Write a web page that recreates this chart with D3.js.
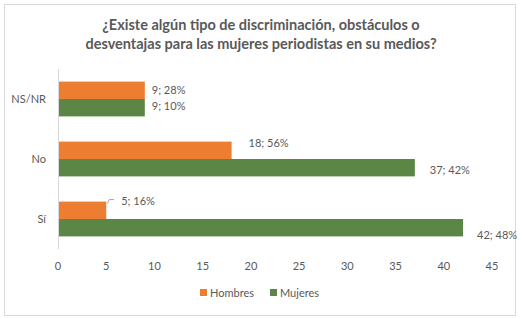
<!DOCTYPE html>
<html>
<head>
<meta charset="utf-8">
<script src="https://cdn.jsdelivr.net/npm/d3@7"></script>
<style>
  body { margin: 0; background: #fff; }
  text { font-family: Lato, "Open Sans", sans-serif; fill: #595959; }
</style>
</head>
<body>
<div id="chart"></div>
<script>
let categories = ["NS/NR", "No", "Sí"];
let series = ["Hombres", "Mujeres"];
let hombres = [9, 18, 5];
let mujeres = [9, 37, 42];
let hombresPct = ["28%", "56%", "16%"];
let mujeresPct = ["10%", "42%", "48%"];
let xTicks = [0, 5, 10, 15, 20, 25, 30, 35, 40, 45];

const W = 523, H = 319;
const colors = ["#ED7D31", "#5B8646"];

// label nudges (as placed by hand in the original)
const nudge = {
    "Hombres": [[0, 0], [10, -7], [8, -9]],
    "Mujeres": [[0, -2], [8, 2], [7, 7]]
};

let svg = d3.select("#chart").append("svg")
    .attr("width", W)
    .attr("height", H);

svg.append("rect")
    .attr("x", 4.5).attr("y", 4.5)
    .attr("width", 511).attr("height", 311)
    .attr("fill", "#fff")
    .attr("stroke", "#D9D9D9");

// title
let title = svg.append("text")
    .attr("text-anchor", "middle")
    .attr("font-size", 14.5)
    .attr("font-weight", "bold")
    .attr("x", 261);
title.append("tspan").attr("x", 261).attr("y", 30)
    .text("¿Existe algún tipo de discriminación, obstáculos o");
title.append("tspan").attr("x", 261).attr("y", 49)
    .text("desventajas para las mujeres periodistas en su medios?");

const x = d3.scaleLinear().domain([0, 45]).range([58, 492]);
const y = d3.scaleBand().domain(categories).range([69, 249]).paddingInner(0.42).paddingOuter(0.21);
const y1 = d3.scaleBand().domain(series).range([0, y.bandwidth()]);

// axis line
svg.append("line")
    .attr("x1", x(0) + 0.5).attr("x2", x(0) + 0.5)
    .attr("y1", 69).attr("y2", 249)
    .attr("stroke", "#D9D9D9");

// x tick labels
svg.selectAll(".xt")
    .data(xTicks)
    .enter().append("text")
    .attr("class", "xt")
    .attr("x", d => x(d))
    .attr("y", 270)
    .attr("text-anchor", "middle")
    .attr("font-size", 11)
    .text(d => d);

// category labels
svg.selectAll(".cat")
    .data(categories)
    .enter().append("text")
    .attr("class", "cat")
    .attr("x", 46)
    .attr("y", d => y(d) + y.bandwidth() / 2 + 4)
    .attr("text-anchor", "end")
    .attr("font-size", 11)
    .text(d => d);

let table = series.map((s, i) => ({
    name: s,
    color: colors[i],
    values: (i === 0 ? hombres : mujeres).map((v, j) => ({
        cat: categories[j], v: v,
        pct: (i === 0 ? hombresPct : mujeresPct)[j],
        nudge: nudge[s][j]
    }))
}));

let groups = svg.selectAll(".series")
    .data(table)
    .enter().append("g")
    .attr("class", "series");

groups.selectAll("rect")
    .data(d => d.values.map(v => Object.assign({ name: d.name, color: d.color }, v)))
    .enter().append("rect")
    .attr("x", x(0) + 1)
    .attr("y", d => y(d.cat) + y1(d.name))
    .attr("width", d => x(d.v) - x(0) - 1)
    .attr("height", y1.bandwidth())
    .attr("fill", d => d.color);

groups.selectAll(".lbl")
    .data(d => d.values.map(v => Object.assign({ name: d.name }, v)))
    .enter().append("text")
    .attr("class", "lbl")
    .attr("x", d => x(d.v) + 7 + d.nudge[0])
    .attr("y", d => y(d.cat) + y1(d.name) + y1.bandwidth() / 2 + 4 + d.nudge[1])
    .attr("font-size", 11)
    .text(d => d.v + "; " + d.pct);

// leader line for Sí / Hombres
let si = y("Sí") + y1("Hombres");
svg.append("path")
    .attr("d", `M${x(hombres[2]) + 1},${si + 2} L${x(hombres[2]) + 3},${si - 2} L${x(hombres[2]) + 8},${si - 2}`)
    .attr("fill", "none")
    .attr("stroke", "#A6A6A6");

// legend
let legend = svg.selectAll(".leg")
    .data(table)
    .enter().append("g")
    .attr("class", "leg")
    .attr("transform", (d, i) => `translate(${i === 0 ? 200 : 270},289)`);
legend.append("rect")
    .attr("width", 7).attr("height", 7)
    .attr("fill", d => d.color);
legend.append("text")
    .attr("x", 10).attr("y", 8)
    .attr("font-size", 11)
    .text(d => d.name);
</script>
</body>
</html>
